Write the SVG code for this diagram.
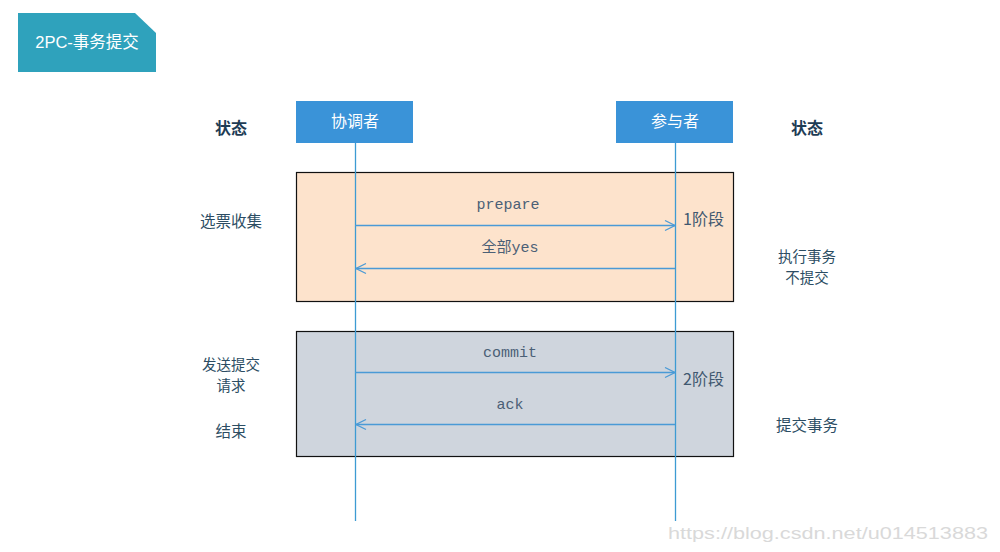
<svg xmlns="http://www.w3.org/2000/svg" width="1000" height="552" viewBox="0 0 1000 552">
<style>
text{font-family:"Liberation Sans","Noto Sans CJK SC",sans-serif;}
.cjk{font-family:"Noto Sans CJK SC",sans-serif;font-size:15.5px;fill:#2c4d63;text-anchor:middle;}
.two{font-size:14.5px;}
.state{font-family:"Noto Sans CJK SC",sans-serif;font-size:16px;font-weight:bold;fill:#1e3c55;text-anchor:middle;}
.actor{fill:#3a93d8;}
.actorText{font-family:"Noto Sans CJK SC",sans-serif;font-size:16px;fill:#ffffff;text-anchor:middle;}
.msg{font-family:"Liberation Mono","Noto Sans CJK SC",monospace;font-size:15px;fill:#4b6076;text-anchor:middle;}
.life{stroke:#3d9bd3;stroke-width:1.3;fill:none;}
.arrow{stroke:#4a9ad6;stroke-width:1.3;fill:none;}
.phase{font-family:"Noto Sans CJK SC",sans-serif;font-size:16px;fill:#3f5870;}
</style>
<defs>
<marker id="open" viewBox="0 0 12 12" refX="11" refY="6" markerWidth="12" markerHeight="12" markerUnits="userSpaceOnUse" orient="auto-start-reverse">
<path d="M1,1 L11,6 L1,11" fill="none" stroke="#4a9ad6" stroke-width="1.2"/>
</marker>
</defs>
<rect width="1000" height="552" fill="#ffffff"/>
<g id="title">
<path d="M18,13 H135 L156,33 V72 H18 Z" fill="#2fa2bc"/>
<text x="87" y="48" font-family="Noto Sans CJK SC,sans-serif" font-size="16.5" fill="#ffffff" text-anchor="middle">2PC-事务提交</text>
</g>
<g id="phase1">
<rect x="296.5" y="172.5" width="437" height="129" fill="#fde3cc" stroke="#111111" stroke-width="1.2"/>
</g>
<g id="phase2">
<rect x="296.5" y="331.5" width="437" height="125" fill="#cfd5dd" stroke="#111111" stroke-width="1.2"/>
</g>
<g id="coordinator">
<rect class="actor" x="296" y="101" width="117" height="42"/>
<text class="actorText" x="355" y="127">协调者</text>
</g>
<g id="participant">
<rect class="actor" x="616" y="101" width="117" height="42"/>
<text class="actorText" x="675" y="127">参与者</text>
</g>
<g id="connectors">
<line class="life" x1="355.5" y1="143" x2="355.5" y2="521"/>
<line class="life" x1="675.5" y1="143" x2="675.5" y2="521"/>
<line class="arrow" x1="355" y1="225.5" x2="675" y2="225.5" marker-end="url(#open)"/>
<line class="arrow" x1="675" y1="268.5" x2="356" y2="268.5" marker-end="url(#open)"/>
<line class="arrow" x1="355" y1="372.5" x2="675" y2="372.5" marker-end="url(#open)"/>
<line class="arrow" x1="675" y1="424.5" x2="356" y2="424.5" marker-end="url(#open)"/>
</g>
<g id="labels">
<text class="msg" x="508" y="209">prepare</text>
<text class="msg" x="510" y="252">全部yes</text>
<text class="msg" x="510" y="357">commit</text>
<text class="msg" x="510" y="409">ack</text>
<text class="phase" x="683" y="225">1阶段</text>
<text class="phase" x="683" y="385">2阶段</text>
<text class="state" x="231" y="134">状态</text>
<text class="state" x="807" y="134">状态</text>
<text class="cjk" x="231" y="227">选票收集</text>
<text class="cjk two" x="231" y="370">发送提交</text>
<text class="cjk two" x="231" y="391">请求</text>
<text class="cjk" x="231" y="437">结束</text>
<text class="cjk two" x="807" y="262">执行事务</text>
<text class="cjk two" x="807" y="283">不提交</text>
<text class="cjk" x="807" y="431">提交事务</text>
</g>
<text x="668" y="539" font-family="Liberation Serif,serif" font-size="17" fill="#d9d9d9" textLength="320" lengthAdjust="spacingAndGlyphs">https://blog.csdn.net/u014513883</text>
</svg>
